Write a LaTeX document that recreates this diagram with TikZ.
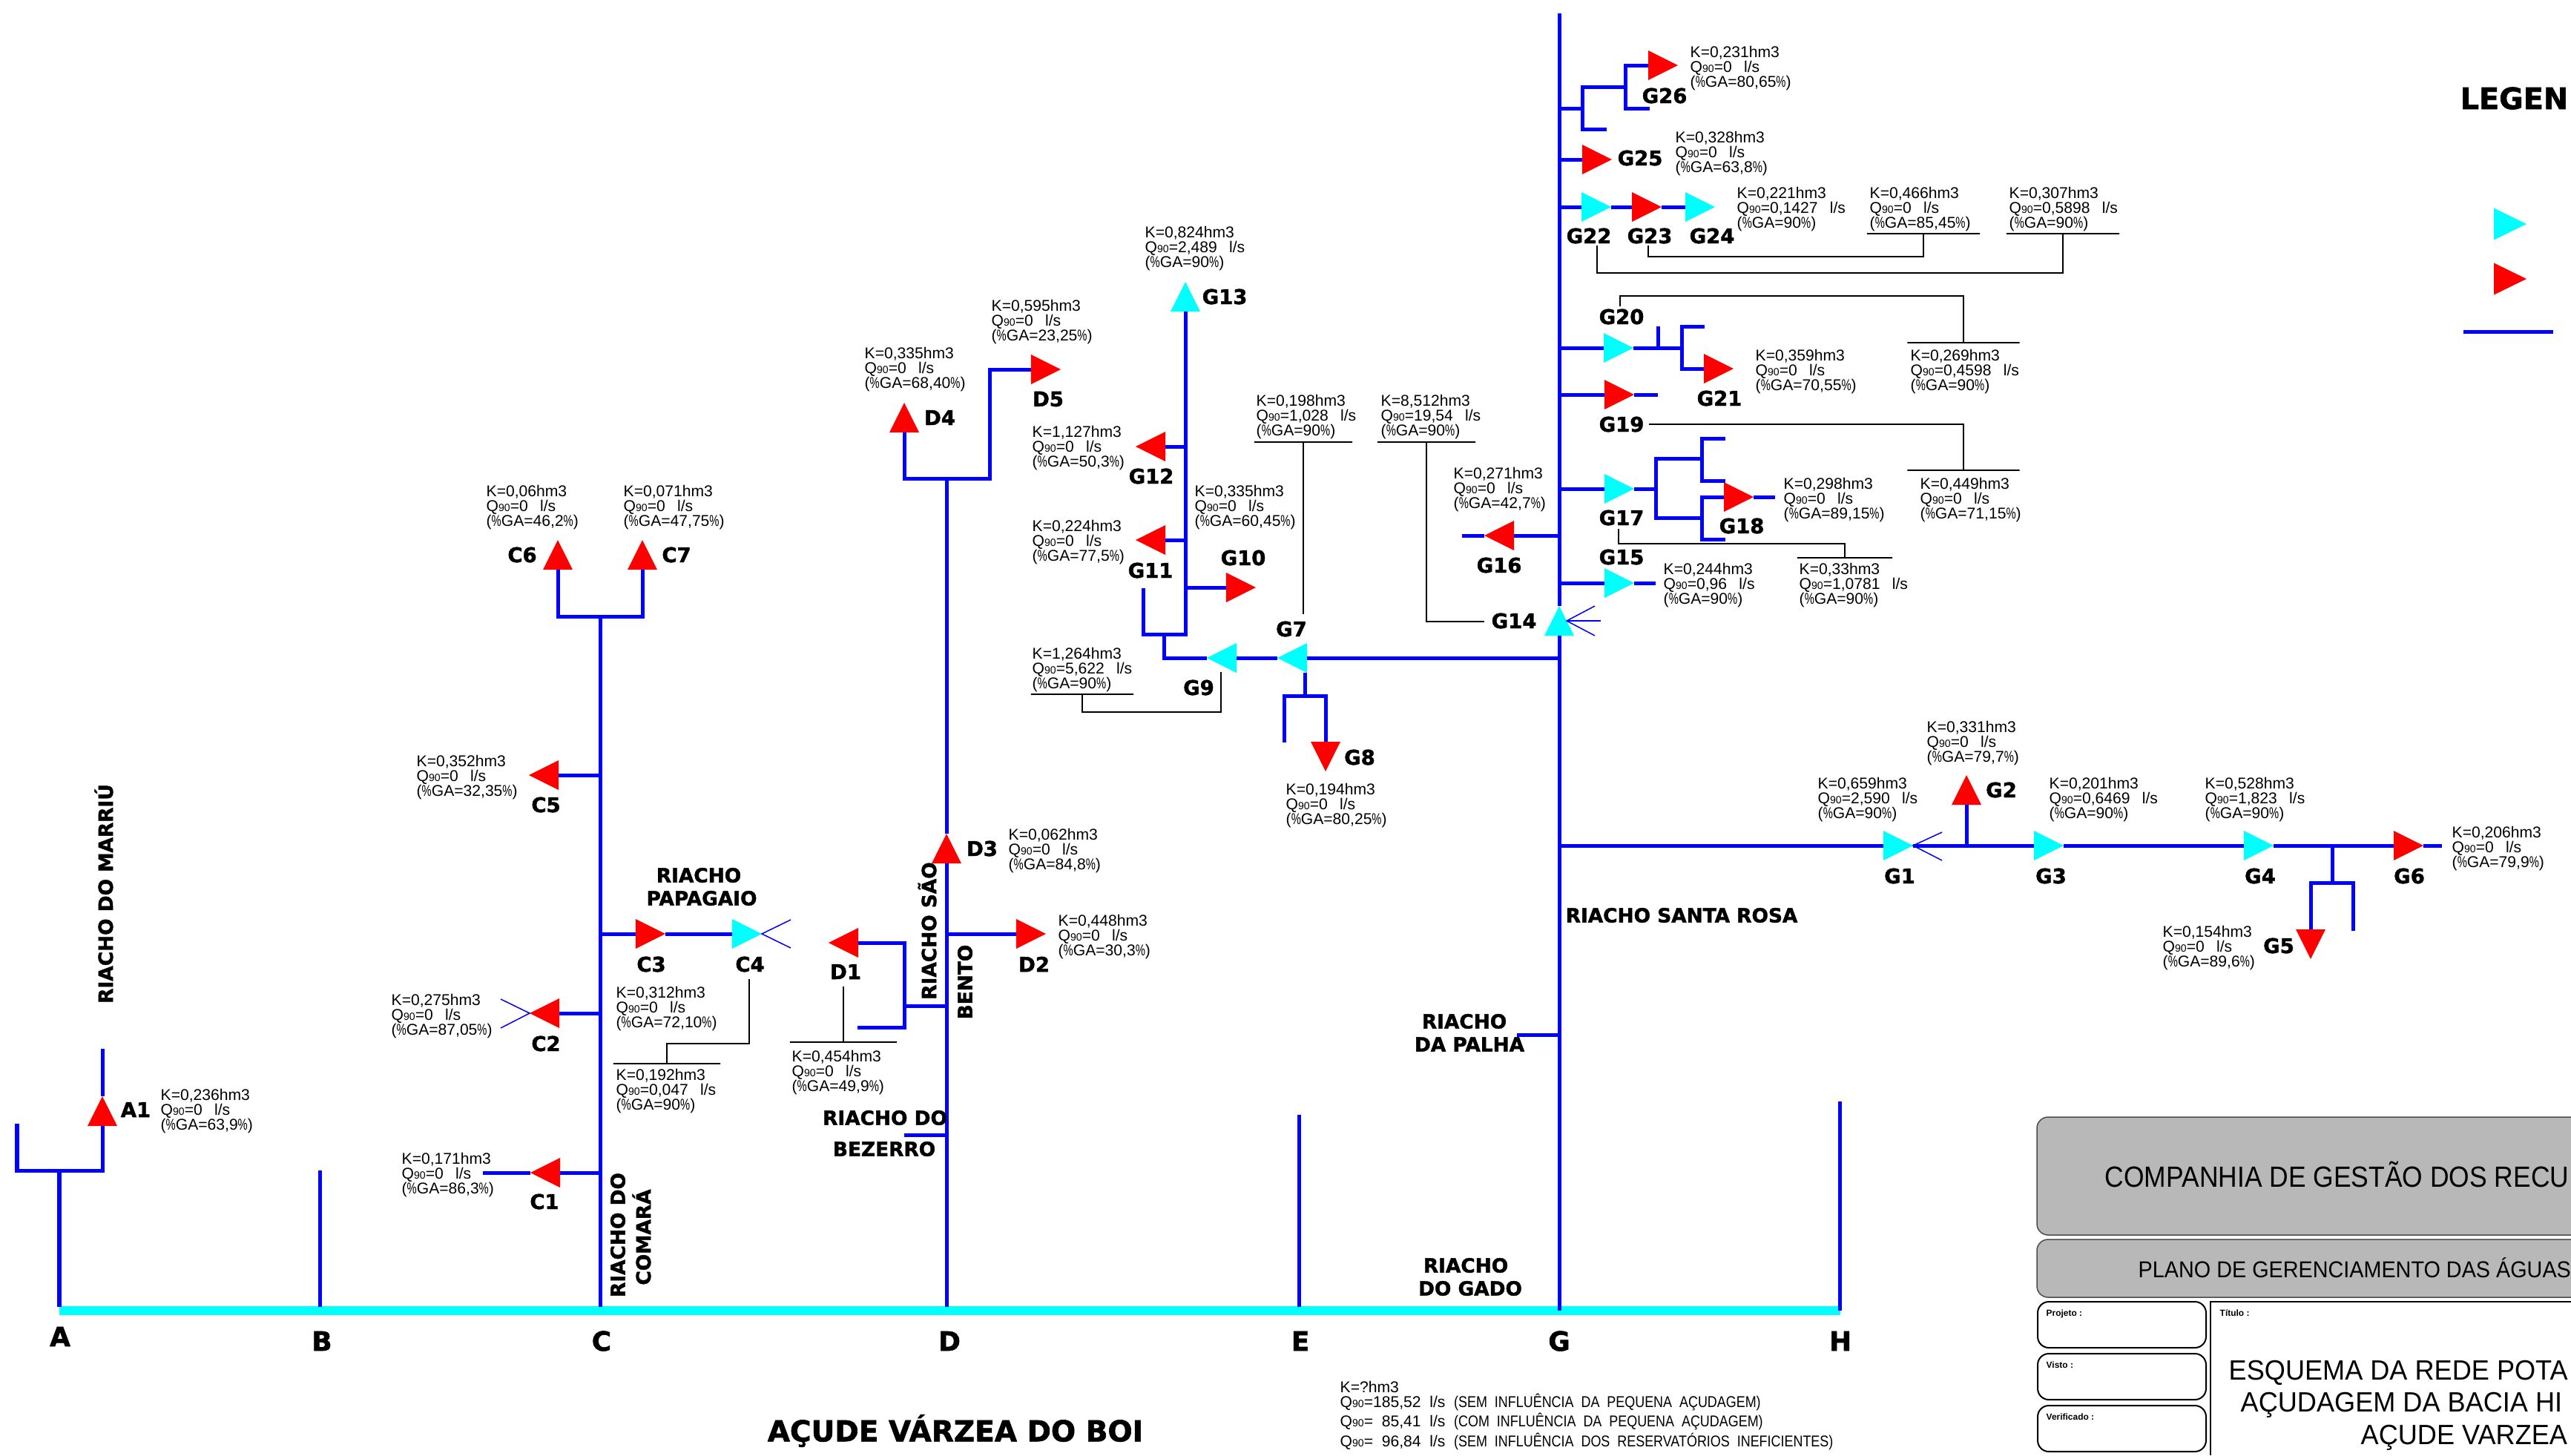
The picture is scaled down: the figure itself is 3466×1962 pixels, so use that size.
\documentclass[tikz,border=0pt]{standalone}
\usepackage{fontspec}
\setmainfont{Liberation Sans}
\newfontfamily\heavy[BoldFeatures={FakeBold=1.6}]{DejaVu Sans}
\usetikzlibrary{shapes.geometric}
\definecolor{netblue}{RGB}{0,0,255}
\definecolor{aqua}{RGB}{0,255,255}
\definecolor{panelgray}{RGB}{184,184,184}
\newcommand{\Qn}{Q{\fontsize{4}{4}\selectfont 90}}
\newcommand{\pct}{\scalebox{.7}[1]{\%}}
\newcommand{\yield}[3]{K=#1hm3\\\Qn=#2\ \ \hspace{1.3pt}l/s\\(\pct GA=#3\pct)}

\begin{document}
\begin{tikzpicture}[x=0.01cm, y=-0.01cm,
    res/.style={isosceles triangle, isosceles triangle stretches, minimum width=.4cm, minimum height=.4cm, inner sep=0pt, outer sep=0pt, anchor=apex},
    redres/.style={res, fill=red},
    cyanres/.style={res, fill=aqua},
    toright/.style={shape border rotate=0},
    toup/.style={shape border rotate=90},
    toleft/.style={shape border rotate=180},
    todown/.style={shape border rotate=270},
    net/.style={draw=netblue, line width=.05cm},
    cross/.style={draw=netblue, line width=.015cm},
    guide/.style={draw=black, line width=.018cm},
    rulebar/.style={draw=black, line width=.018cm, minimum height=0pt, inner sep=0pt, outer sep=0pt},
    tag/.style={font=\heavy\bfseries\fontsize{7.8}{9}\selectfont, inner sep=0pt},
    river/.style={font=\heavy\bfseries\fontsize{7.5}{9}\selectfont, inner sep=0pt},
    letter/.style={font=\heavy\bfseries\fontsize{10.2}{12}\selectfont, inner sep=0pt},
    info/.style={font=\fontsize{6}{5.75}\selectfont, align=left, anchor=north west, inner sep=0pt},
    headline/.style={anchor=base west, inner sep=0pt},
    signbox/.style={draw=black, line width=.02cm, fill=white, rounded corners=.15cm},
    signtext/.style={font=\bfseries\fontsize{3.4}{4}\selectfont, anchor=base west, inner sep=0pt}]
    \useasboundingbox (0,0) rectangle (3466,1962);

    % reservoir bar and river ends
    \coordinate (barW) at (80,1767);
    \coordinate (barE) at (2481,1767);
    \coordinate (Atop) at (80,1578);
    \coordinate (Abase) at (80,1762);
    \coordinate (Btop) at (431,1578);
    \coordinate (Bbase) at (431,1762);
    \coordinate (Ctop) at (809,831);
    \coordinate (Cbase) at (809,1762);
    \coordinate (Dtop) at (1276,645);
    \coordinate (Dbase) at (1276,1762);
    \coordinate (Etop) at (1751,1503);
    \coordinate (Ebase) at (1751,1762);
    \coordinate (Gtop) at (2102,18);
    \coordinate (Gbase) at (2102,1767);
    \coordinate (Htop) at (2480,1485);
    \coordinate (Hbase) at (2480,1767);
    \draw [draw=aqua, line width=.12cm] (barW) -- (barE);

    % reservoirs
    \node (A1) [redres, toup] at (138,1478) {};
    \node (C1) [redres, toleft] at (715,1581) {};
    \node (C2) [redres, toleft] at (714,1366) {};
    \node (C3) [redres, toright] at (897,1259) {};
    \node (C4) [cyanres, toright] at (1027,1259) {};
    \node (C5) [redres, toleft] at (713,1045) {};
    \node (C6) [redres, toup] at (752,728) {};
    \node (C7) [redres, toup] at (866,728) {};
    \node (D1) [redres, toleft] at (1117,1271) {};
    \node (D2) [redres, toright] at (1410,1259) {};
    \node (D3) [redres, toup] at (1276,1124) {};
    \node (D4) [redres, toup] at (1219,543) {};
    \node (D5) [redres, toright] at (1430,498) {};
    \node (G1) [cyanres, toright] at (2579,1140) {};
    \node (G2) [redres, toup] at (2651,1045) {};
    \node (G3) [cyanres, toright] at (2782,1140) {};
    \node (G4) [cyanres, toright] at (3065,1140) {};
    \node (G5) [redres, todown] at (3115,1293) {};
    \node (G6) [redres, toright] at (3267,1140) {};
    \node (G7) [cyanres, toleft] at (1722,887) {};
    \node (G8) [redres, todown] at (1787,1040) {};
    \node (G9) [cyanres, toleft] at (1627,887) {};
    \node (G10) [redres, toright] at (1693,792) {};
    \node (G11) [redres, toleft] at (1531,728) {};
    \node (G12) [redres, toleft] at (1531,602) {};
    \node (G13) [cyanres, toup] at (1598,380) {};
    \node (G14) [cyanres, toup] at (2102,817) {};
    \node (G15) [cyanres, toright] at (2203,786) {};
    \node (G16) [redres, toleft] at (2001,722) {};
    \node (G17) [cyanres, toright] at (2203,659) {};
    \node (G18) [redres, toright] at (2364,670) {};
    \node (G19) [redres, toright] at (2203,532) {};
    \node (G20) [cyanres, toright] at (2202,469) {};
    \node (G21) [redres, toright] at (2337,497) {};
    \node (G22) [cyanres, toright] at (2172,279) {};
    \node (G23) [redres, toright] at (2240,279) {};
    \node (G24) [cyanres, toright] at (2312,279) {};
    \node (G25) [redres, toright] at (2173,215) {};
    \node (G26) [redres, toright] at (2262,88) {};

    % junctions and free ends
    \coordinate (A1end) at (138,1414);
    \coordinate (Aleft) at (23,1515);
    \coordinate (C1end) at (651,1581);
    \coordinate (C2up) at (675,1347);
    \coordinate (C2dn) at (675,1386);
    \coordinate (C4up) at (1066,1240);
    \coordinate (C4dn) at (1066,1278);
    \coordinate (D1jun) at (1219,1356);
    \coordinate (D1end) at (1156,1385);
    \coordinate (D5turn) at (1334,645);
    \coordinate (Bezerro) at (1219,1530);
    \coordinate (Palha) at (2045,1395);
    \coordinate (G1up) at (2618,1122);
    \coordinate (G1dn) at (2618,1160);
    \coordinate (G5jun) at (3144,1190);
    \coordinate (G5end) at (3172,1255);
    \coordinate (G6end) at (3292,1140);
    \coordinate (G8jun) at (1759,938);
    \coordinate (G8open) at (1731,1001);
    \coordinate (G9up) at (1569,855);
    \coordinate (G11end) at (1541,793);
    \coordinate (G13bot) at (1598,855);
    \coordinate (G14m) at (2112,837);
    \coordinate (G14a) at (2150,817);
    \coordinate (G14b) at (2158,837);
    \coordinate (G14c) at (2150,857);
    \coordinate (G15end) at (2232,786);
    \coordinate (G16end) at (1971,722);
    \coordinate (G17jun) at (2232,659);
    \coordinate (G17up) at (2294,618);
    \coordinate (G17dn) at (2294,698);
    \coordinate (G18a) at (2326,591);
    \coordinate (G18b) at (2326,648);
    \coordinate (G18d) at (2326,727);
    \coordinate (G18end) at (2393,670);
    \coordinate (G19end) at (2235,532);
    \coordinate (G20jun) at (2267,469);
    \coordinate (G20stub) at (2235,440);
    \coordinate (G20end) at (2298,440);
    \coordinate (G26jun) at (2133,146);
    \coordinate (G26mid) at (2191,117);
    \coordinate (G26a) at (2224,146);
    \coordinate (G26b) at (2166,174);

    % rivers A to H
    \draw [net] (Abase) -- (Atop);
    \draw [net] (Aleft) -- ++(0,63) -| (A1.lower side);
    \draw [net] (A1.apex) -- (A1end);
    \draw [net] (Bbase) -- (Btop);
    \draw [net] (Cbase) -- (Ctop);
    \draw [net] (C6.lower side) |- (Ctop) -| (C7.lower side);
    \draw [net] (Ctop |- C5) -- (C5.lower side);
    \draw [net] (Ctop |- C3) -- (C3.lower side);
    \draw [net] (C3.apex) -- (C4.lower side);
    \draw [net] (Ctop |- C2) -- (C2.lower side);
    \draw [net] (Ctop |- C1) -- (C1.lower side);
    \draw [net] (C1.apex) -- (C1end);
    \draw [cross] (C2up) -- (C2.apex) -- (C2dn);
    \draw [cross] (C4up) -- (C4.apex) -- (C4dn);
    \draw [net] (Dtop) -- (D3.apex);
    \draw [net] (D3.lower side) -- (Dbase);
    \draw [net] (D4.lower side) |- (D5turn) |- (D5.lower side);
    \draw [net] (Dtop |- D2) -- (D2.lower side);
    \draw [net] (Dtop |- D1jun) -- (D1jun);
    \draw [net] (D1.lower side) -- (D1jun |- D1) -- (D1jun |- D1end) -- (D1end);
    \draw [net] (Bezerro) -- (Dtop |- Bezerro);
    \draw [net] (Ebase) -- (Etop);
    \draw [net] (Hbase) -- (Htop);
    \draw [net] (Gtop) -- (G14.apex);
    \draw [net] (G14.lower side) -- (Gbase);
    \draw [cross] (G14a) -- (G14m) -- (G14c);
    \draw [cross] (G14b) -- (G14m);
    \draw [net] (Palha) -- (Gtop |- Palha);

    % branch to G1 ... G6
    \draw [net] (Gtop |- G1) -- (G1.lower side);
    \draw [net] (G1.apex) -- (G3.lower side);
    \draw [net] (G3.apex) -- (G4.lower side);
    \draw [net] (G4.apex) -- (G6.lower side);
    \draw [net] (G6.apex) -- (G6end);
    \draw [cross] (G1up) -- (G1.apex) -- (G1dn);
    \draw [net] (G2.lower side) -- (G2 |- G1);
    \draw [net] (G5jun |- G1) -- (G5jun);
    \draw [net] (G5.lower side) |- (G5jun) -| (G5end);

    % branch to G7 ... G13
    \draw [net] (Gtop |- G7) -- (G7.lower side);
    \draw [net] (G7.apex) -- (G9.lower side);
    \draw [net] (G9.apex) -| (G9up);
    \draw [net] (G11end) |- (G13bot) -- (G13.lower side);
    \draw [net] (G13bot |- G12) -- (G12.lower side);
    \draw [net] (G13bot |- G11) -- (G11.lower side);
    \draw [net] (G13bot |- G10) -- (G10.lower side);
    \draw [net] (G8jun |- G7.left corner) -- (G8jun);
    \draw [net] (G8open) |- (G8jun) -| (G8.lower side);

    % branches to G15 ... G26
    \draw [net] (Gtop |- G15) -- (G15.lower side);
    \draw [net] (G15.apex) -- (G15end);
    \draw [net] (Gtop |- G16) -- (G16.lower side);
    \draw [net] (G16.apex) -- (G16end);
    \draw [net] (Gtop |- G17) -- (G17.lower side);
    \draw [net] (G17.apex) -- (G17jun);
    \draw [net] (G17up) -| (G17jun) |- (G17dn);
    \draw [net] (G18a) -| (G17up) |- (G18b);
    \draw [net] (G18.lower side) -| (G17dn) |- (G18d);
    \draw [net] (G18.apex) -- (G18end);
    \draw [net] (Gtop |- G19) -- (G19.lower side);
    \draw [net] (G19.apex) -- (G19end);
    \draw [net] (Gtop |- G20) -- (G20.lower side);
    \draw [net] (G20.apex) -- (G20jun);
    \draw [net] (G20stub) -- (G20stub |- G20);
    \draw [net] (G20end) -| (G20jun) |- (G21.lower side);
    \draw [net] (Gtop |- G22) -- (G22.lower side);
    \draw [net] (G22.apex) -- (G23.lower side);
    \draw [net] (G23.apex) -- (G24.lower side);
    \draw [net] (Gtop |- G25) -- (G25.lower side);
    \draw [net] (Gtop |- G26jun) -- (G26jun);
    \draw [net] (G26b) -| (G26jun) |- (G26mid);
    \draw [net] (G26.lower side) -| (G26mid) |- (G26a);

    % reservoir names
    \node (A1tag) [tag] at (183,1496) {A1};
    \node (C1tag) [tag] at (734,1620) {C1};
    \node (C2tag) [tag] at (736,1407) {C2};
    \node (C3tag) [tag] at (878,1300) {C3};
    \node (C4tag) [tag] at (1011,1300) {C4};
    \node (C5tag) [tag] at (736,1085) {C5};
    \node (C6tag) [tag] at (704,748) {C6};
    \node (C7tag) [tag] at (912,748) {C7};
    \node (D1tag) [tag] at (1140,1310) {D1};
    \node (D2tag) [tag] at (1394,1300) {D2};
    \node (D3tag) [tag] at (1324,1144) {D3};
    \node (D4tag) [tag] at (1267,563) {D4};
    \node (D5tag) [tag] at (1413,538) {D5};
    \node (G1tag) [tag] at (2561,1181) {G1};
    \node (G2tag) [tag] at (2698,1065) {G2};
    \node (G3tag) [tag] at (2765,1181) {G3};
    \node (G4tag) [tag] at (3047,1181) {G4};
    \node (G5tag) [tag] at (3072,1275) {G5};
    \node (G6tag) [tag] at (3248,1181) {G6};
    \node (G7tag) [tag] at (1741,848) {G7};
    \node (G8tag) [tag] at (1833,1021) {G8};
    \node (G9tag) [tag] at (1616,927) {G9};
    \node (G10tag) [tag] at (1676,752) {G10};
    \node (G11tag) [tag] at (1551,769) {G11};
    \node (G12tag) [tag] at (1552,642) {G12};
    \node (G13tag) [tag] at (1651,400) {G13};
    \node (G14tag) [tag] at (2041,837) {G14};
    \node (G15tag) [tag] at (2186,751) {G15};
    \node (G16tag) [tag] at (2021,762) {G16};
    \node (G17tag) [tag] at (2186,698) {G17};
    \node (G18tag) [tag] at (2348,709) {G18};
    \node (G19tag) [tag] at (2186,572) {G19};
    \node (G20tag) [tag] at (2186,427) {G20};
    \node (G21tag) [tag] at (2318,537) {G21};
    \node (G22tag) [tag] at (2142,318) {G22};
    \node (G23tag) [tag] at (2224,318) {G23};
    \node (G24tag) [tag] at (2308,318) {G24};
    \node (G25tag) [tag] at (2211,213) {G25};
    \node (G26tag) [tag] at (2244,129) {G26};

    % storage and flow data
    \node (A1info) [info] at (216,1467) {\yield{0,236}{0}{63,9}};
    \node (C1info) [info] at (541,1553) {\yield{0,171}{0}{86,3}};
    \node (C2info) [info] at (527,1339) {\yield{0,275}{0}{87,05}};
    \node (C3info) [info] at (830,1329) {\yield{0,312}{0}{72,10}};
    \node (C4info) [info] at (830,1440) {\yield{0,192}{0,047}{90}};
    \node (C5info) [info] at (561,1017) {\yield{0,352}{0}{32,35}};
    \node (C6info) [info] at (655,653) {\yield{0,06}{0}{46,2}};
    \node (C7info) [info] at (840,653) {\yield{0,071}{0}{47,75}};
    \node (D1info) [info] at (1067,1415) {\yield{0,454}{0}{49,9}};
    \node (D2info) [info] at (1426,1232) {\yield{0,448}{0}{30,3}};
    \node (D3info) [info] at (1359,1116) {\yield{0,062}{0}{84,8}};
    \node (D4info) [info] at (1165,467) {\yield{0,335}{0}{68,40}};
    \node (D5info) [info] at (1336,403) {\yield{0,595}{0}{23,25}};
    \node (G1info) [info] at (2450,1047) {\yield{0,659}{2,590}{90}};
    \node (G2info) [info] at (2597,971) {\yield{0,331}{0}{79,7}};
    \node (G3info) [info] at (2762,1047) {\yield{0,201}{0,6469}{90}};
    \node (G4info) [info] at (2972,1047) {\yield{0,528}{1,823}{90}};
    \node (G5info) [info] at (2915,1247) {\yield{0,154}{0}{89,6}};
    \node (G6info) [info] at (3305,1113) {\yield{0,206}{0}{79,9}};
    \node (G7info) [info] at (1693,531) {\yield{0,198}{1,028}{90}};
    \node (G8info) [info] at (1733,1055) {\yield{0,194}{0}{80,25}};
    \node (G9info) [info] at (1391,872) {\yield{1,264}{5,622}{90}};
    \node (G10info) [info] at (1610,653) {\yield{0,335}{0}{60,45}};
    \node (G11info) [info] at (1391,700) {\yield{0,224}{0}{77,5}};
    \node (G12info) [info] at (1391,573) {\yield{1,127}{0}{50,3}};
    \node (G13info) [info] at (1543,304) {\yield{0,824}{2,489}{90}};
    \node (G14info) [info] at (1861,531) {\yield{8,512}{19,54}{90}};
    \node (G15info) [info] at (2242,758) {\yield{0,244}{0,96}{90}};
    \node (G16info) [info] at (1959,629) {\yield{0,271}{0}{42,7}};
    \node (G17info) [info] at (2425,758) {\yield{0,33}{1,0781}{90}};
    \node (G18info) [info] at (2404,643) {\yield{0,298}{0}{89,15}};
    \node (G19info) [info] at (2588,643) {\yield{0,449}{0}{71,15}};
    \node (G20info) [info] at (2575,470) {\yield{0,269}{0,4598}{90}};
    \node (G21info) [info] at (2366,470) {\yield{0,359}{0}{70,55}};
    \node (G22info) [info] at (2708,251) {\yield{0,307}{0,5898}{90}};
    \node (G23info) [info] at (2520,251) {\yield{0,466}{0}{85,45}};
    \node (G24info) [info] at (2341,251) {\yield{0,221}{0,1427}{90}};
    \node (G25info) [info] at (2258,176) {\yield{0,328}{0}{63,8}};
    \node (G26info) [info] at (2278,61) {\yield{0,231}{0}{80,65}};
    \node (Vinfo) [info] at (1806,1861) {K=?hm3\\\Qn=185,52\ \ l/s\ \ \scalebox{.85}[1]{(SEM\ \ INFLUÊNCIA\ \ DA\ \ PEQUENA\ \ AÇUDAGEM)}\\\Qn=\ \ 85,41\ \ l/s\ \ \scalebox{.85}[1]{(COM\ \ INFLUÊNCIA\ \ DA\ \ PEQUENA\ \ AÇUDAGEM)}\\\Qn=\ \ 96,84\ \ l/s\ \ \scalebox{.85}[1]{(SEM\ \ INFLUÊNCIA\ \ DOS\ \ RESERVATÓRIOS\ \ INEFICIENTES)}};

    % leaders from the name to the data
    \node (barC4) [rulebar, draw, minimum width=1.44cm] at (899,1434) {};
    \node (barD1) [rulebar, draw, minimum width=1.44cm] at (1137,1405) {};
    \node (barG7) [rulebar, draw, minimum width=1.32cm] at (1757,596) {};
    \node (barG9) [rulebar, draw, minimum width=1.38cm] at (1459,936) {};
    \node (barG14) [rulebar, draw, minimum width=1.32cm] at (1923,596) {};
    \node (barG17) [rulebar, draw, minimum width=1.28cm] at (2487,752) {};
    \node (barG19) [rulebar, draw, minimum width=1.51cm] at (2647,634) {};
    \node (barG20) [rulebar, draw, minimum width=1.51cm] at (2647,462) {};
    \node (barG22) [rulebar, draw, minimum width=1.52cm] at (2781,315) {};
    \node (barG23) [rulebar, draw, minimum width=1.52cm] at (2593,315) {};
    \coordinate (C4lead) at (1010,1320);
    \coordinate (D1lead) at (1137,1330);
    \coordinate (G7lead) at (1757,828);
    \coordinate (G9lead) at (1646,906);
    \coordinate (G14lead) at (2001,838);
    \coordinate (G17lead) at (2182,713);
    \coordinate (G19lead) at (2223,572);
    \coordinate (G20lead) at (2184,413);
    \coordinate (G22lead) at (2153,331);
    \coordinate (G23lead) at (2222,331);
    \draw [guide] (barC4) -- ++(0,-27) -| (C4lead);
    \draw [guide] (barD1) -- (D1lead);
    \draw [guide] (barG7) -- (G7lead);
    \draw [guide] (barG9) -- ++(0,24) -| (G9lead);
    \draw [guide] (barG14) |- (G14lead);
    \draw [guide] (barG17) -- ++(0,-19) -| (G17lead);
    \draw [guide] (barG19) |- (G19lead);
    \draw [guide] (barG20) -- ++(0,-63) -| (G20lead);
    \draw [guide] (barG22) -- ++(0,53) -| (G22lead);
    \draw [guide] (barG23) -- ++(0,31) -| (G23lead);

    % river names
    \node (marriu) [river, rotate=90] at (140,1205) {RIACHO DO MARRIÚ};
    \node (comara1) [river, rotate=90] at (833,1665) {RIACHO DO};
    \node (comara2) [river, rotate=90] at (865,1668) {COMARÁ};
    \node (papagaio1) [river] at (942,1180) {RIACHO};
    \node (papagaio2) [river] at (946,1211) {PAPAGAIO};
    \node (saobento1) [river, rotate=90] at (1250,1255) {RIACHO SÃO};
    \node (saobento2) [river, rotate=90] at (1301,1324) {BENTO};
    \node (bezerro1) [river] at (1193,1507) {RIACHO DO};
    \node (bezerro2) [river] at (1192,1549) {BEZERRO};
    \node (santarosa) [river] at (2267,1234) {RIACHO SANTA ROSA};
    \node (palha1) [river] at (1974,1377) {RIACHO};
    \node (palha2) [river] at (1981,1408) {DA PALHA};
    \node (gado1) [river] at (1976,1706) {RIACHO};
    \node (gado2) [river] at (1982,1737) {DO GADO};

    % points on the reservoir and its name
    \node (pointA) [letter] at (81,1802) {A};
    \node (pointB) [letter] at (434,1808) {B};
    \node (pointC) [letter] at (811,1808) {C};
    \node (pointD) [letter] at (1280,1808) {D};
    \node (pointE) [letter] at (1753,1808) {E};
    \node (pointG) [letter] at (2102,1808) {G};
    \node (pointH) [letter] at (2481,1808) {H};
    \node (acude) [font=\heavy\bfseries\fontsize{11.1}{13}\selectfont, inner sep=0pt] at (1288,1929) {AÇUDE VÁRZEA DO BOI};

    % legend
    \node (legendtitle) [font=\heavy\bfseries\fontsize{11.3}{13}\selectfont, headline] at (3316,147) {LEGEN};
    \node (legcyan) [cyanres, toright, minimum width=.43cm, minimum height=.44cm] at (3406,302) {};
    \node (legred) [redres, toright, minimum width=.43cm, minimum height=.44cm] at (3406,376) {};
    \coordinate (legW) at (3321,447);
    \coordinate (legE) at (3442,447);
    \draw [net] (legW) -- (legE);

    % title block
    \filldraw [fill=panelgray, draw=black!70, line width=.015cm, rounded corners=.15cm] (3466,1506) -- (2746,1506) -- (2746,1665) -- (3466,1665);
    \filldraw [fill=panelgray, draw=black!70, line width=.015cm, rounded corners=.15cm] (3466,1671) -- (2746,1671) -- (2746,1749) -- (3466,1749);
    \node (company) [headline, font=\fontsize{11.2}{13}\selectfont] at (2837,1600) {\scalebox{.9}[1]{COMPANHIA DE GESTÃO DOS RECU}};
    \node (plan) [headline, font=\fontsize{8.8}{10}\selectfont] at (2882,1722) {\scalebox{.93}[1]{PLANO DE GERENCIAMENTO DAS ÁGUAS}};
    \draw [signbox] (2747,1755) rectangle (2974,1817);
    \draw [signbox] (2747,1825) rectangle (2974,1887);
    \draw [signbox] (2747,1895) rectangle (2974,1957);
    \draw [draw=black, line width=.02cm] (3466,1755) -- (2980,1755) -- (2980,1962);
    \node (projeto) [signtext] at (2758,1774) {Projeto :};
    \node (visto) [signtext] at (2758,1844) {Visto :};
    \node (verificado) [signtext] at (2758,1914) {Verificado :};
    \node (titulo) [signtext] at (2992,1774) {Título :};
    \node (title1) [headline, font=\fontsize{10.7}{12}\selectfont] at (3004,1860) {\scalebox{.96}[1]{ESQUEMA DA REDE POTA}};
    \node (title2) [headline, font=\fontsize{10.7}{12}\selectfont] at (3020,1903) {\scalebox{.96}[1]{AÇUDAGEM DA BACIA HI}};
    \node (title3) [headline, font=\fontsize{10.7}{12}\selectfont] at (3182,1947) {\scalebox{.96}[1]{AÇUDE VARZEA}};
\end{tikzpicture}
\end{document}
